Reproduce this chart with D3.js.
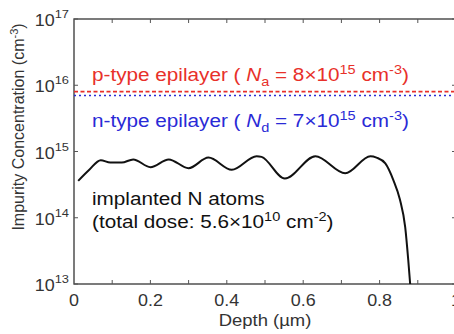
<!DOCTYPE html>
<html>
<head>
<meta charset="utf-8">
<script src="https://cdn.jsdelivr.net/npm/d3@7"></script>
<style>
  html, body { margin: 0; padding: 0; background: #fff; }
  svg { display: block; font-family: "Liberation Sans", Arial, sans-serif; }
</style>
</head>
<body>
<svg id="chart" width="454" height="334"></svg>
<script>
// Implanted nitrogen depth profile (depth in µm, concentration in cm^-3)
const depth = [0.011, 0.04, 0.07, 0.095, 0.125, 0.155, 0.20, 0.248, 0.30, 0.352,
               0.413, 0.478, 0.491, 0.552, 0.632, 0.71, 0.776, 0.792, 0.815,
               0.836, 0.853, 0.867, 0.875, 0.880];
const conc  = [3.6e14, 5.3e14, 7.4e14, 6.8e14, 6.8e14, 7.6e14, 5.8e14, 7.6e14, 5.6e14, 8.1e14,
               5.3e14, 8.5e14, 8.3e14, 3.9e14, 8.5e14, 4.7e14, 8.5e14, 8.1e14, 6.6e14,
               3.7e14, 1.9e14, 7.2e13, 2.3e13, 1.0e13];

// Epilayer doping levels
const epiLevels = [8e15, 7e15];
const epiColors = ["#e8302a", "#2a2ad6"];

// Axis ticks
const xTicks = [0, 0.2, 0.4, 0.6, 0.8, 1];
const xMinor = [0.1, 0.2, 0.3, 0.4, 0.5, 0.6, 0.7, 0.8, 0.9];
const yExps  = [13, 14, 15, 16, 17];

const svg = d3.select("#chart");
const m = { left: 74, top: 19, right: 456, bottom: 284 };

const x = d3.scaleLinear().domain([0, 1]).range([m.left, m.right]);
const y = d3.scaleLog().domain([1e13, 1e17]).range([m.bottom, m.top]);

const ink = "#333";
const sx = 1.12; // horizontal widening of the lettering

// Text anchored at (px, py), widened horizontally
function wideText(px, py, size, color, anchor) {
  return svg.append("g")
    .attr("transform", `translate(${px},${py}) scale(${sx},1)`)
    .append("text")
    .attr("font-size", size).attr("fill", color)
    .attr("text-anchor", anchor || "start");
}

// Frame
svg.append("rect")
  .attr("x", m.left).attr("y", m.top)
  .attr("width", m.right - m.left).attr("height", m.bottom - m.top)
  .attr("fill", "none").attr("stroke", "#444").attr("stroke-width", 1.4);

// Inward ticks on all sides
const tk = 4;
const gt = svg.append("g").attr("stroke", "#555").attr("stroke-width", 1);
xMinor.forEach(v => {
  gt.append("line").attr("x1", x(v)).attr("x2", x(v)).attr("y1", m.bottom).attr("y2", m.bottom - tk);
  gt.append("line").attr("x1", x(v)).attr("x2", x(v)).attr("y1", m.top).attr("y2", m.top + tk);
});
yExps.forEach(e => {
  const yy = y(Math.pow(10, e));
  gt.append("line").attr("x1", m.left).attr("x2", m.left + tk).attr("y1", yy).attr("y2", yy);
  gt.append("line").attr("x1", m.right).attr("x2", m.right - tk).attr("y1", yy).attr("y2", yy);
});

// X tick labels
xTicks.forEach(v => {
  wideText(x(v), 306, 16, ink, "middle").text(d3.format("~g")(v));
});

// Y tick labels as powers of ten
yExps.forEach(e => {
  const t = wideText(69, y(Math.pow(10, e)) + 7, 16, ink, "end");
  t.append("tspan").text("10");
  t.append("tspan").attr("font-size", 11.5).attr("dy", -8).text(e);
});

// Axis titles
wideText(265, 326, 16.5, ink, "middle").text("Depth (µm)");

const yt = svg.append("text")
  .attr("transform", "translate(24,127) rotate(-90)")
  .attr("text-anchor", "middle").attr("font-size", 16).attr("fill", ink);
yt.append("tspan").text("Impurity Concentration (cm");
yt.append("tspan").attr("font-size", 11).attr("dy", -6).text("-3");
yt.append("tspan").attr("dy", 6).text(")");

// Epilayer doping lines
svg.append("line")
  .attr("x1", m.left).attr("x2", m.right)
  .attr("y1", y(epiLevels[0])).attr("y2", y(epiLevels[0]))
  .attr("stroke", epiColors[0]).attr("stroke-width", 1.6)
  .attr("stroke-dasharray", "4,2.5");
svg.append("line")
  .attr("x1", m.left).attr("x2", m.right)
  .attr("y1", y(epiLevels[1])).attr("y2", y(epiLevels[1]))
  .attr("stroke", epiColors[1]).attr("stroke-width", 1.6)
  .attr("stroke-dasharray", "2,3");

// Annotation helper: plain / italic / sub / sup runs
function label(xp, yp, color, parts) {
  const t = wideText(xp, yp, 18.5, color);
  let shift = 0;
  parts.forEach(p => {
    const s = t.append("tspan").text(p.t);
    let target = 0;
    if (p.sub) { target = 5; s.attr("font-size", 13); }
    if (p.sup) { target = -7.5; s.attr("font-size", 13); }
    if (p.it) s.attr("font-style", "italic");
    s.attr("dy", target - shift);
    shift = target;
  });
}

label(92, 81, epiColors[0], [
  { t: "p-type epilayer ( " }, { t: "N", it: true }, { t: "a", sub: true },
  { t: " = 8×10" }, { t: "15", sup: true }, { t: " cm" }, { t: "-3", sup: true }, { t: ")" }
]);
label(92, 127, epiColors[1], [
  { t: "n-type epilayer ( " }, { t: "N", it: true }, { t: "d", sub: true },
  { t: " = 7×10" }, { t: "15", sup: true }, { t: " cm" }, { t: "-3", sup: true }, { t: ")" }
]);
label(92, 205, "#111", [{ t: "implanted N atoms" }]);
label(92, 228, "#111", [
  { t: "(total dose: 5.6×10" }, { t: "10", sup: true }, { t: " cm" }, { t: "-2", sup: true }, { t: ")" }
]);

// Nitrogen profile
const line = d3.line()
  .x((d, i) => x(depth[i]))
  .y((d, i) => y(conc[i]))
  .curve(d3.curveMonotoneX);
svg.append("path")
  .datum(conc)
  .attr("d", line)
  .attr("fill", "none").attr("stroke", "#111").attr("stroke-width", 2);
</script>
</body>
</html>
